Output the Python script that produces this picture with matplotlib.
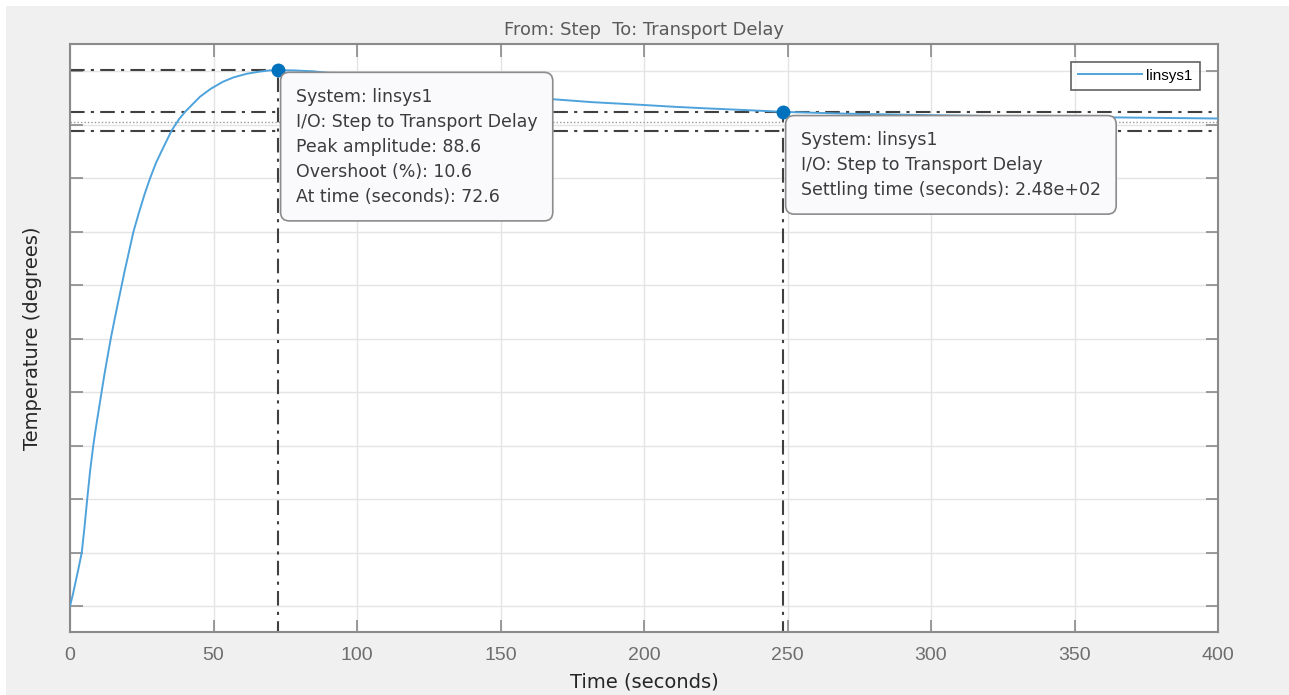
import numpy as np
import matplotlib.pyplot as plt
from matplotlib.patches import Rectangle

# step response (time in s, temperature)
time = [0, 1, 2, 3, 4.1, 5, 6, 7, 8.1, 9, 10, 11, 12, 13, 14.2, 15.5, 16.8, 18,
        19, 20, 22.1, 24, 26, 27.9, 30, 32, 35.4, 38, 40.1, 43, 45.3, 49, 53.4,
        57, 61.6, 66, 69.5, 72.6, 78, 84.7, 95, 110, 130, 150, 167.8, 182,
        197.5, 210, 220.6, 235, 248.4, 270, 300, 330, 360, 380, 400]
temp = [0, 1.9, 4.1, 6.3, 8.84, 12.8, 17.68, 22.3, 26.52, 29.4, 32.4, 35.36,
        38.3, 41.0, 44.2, 47.3, 50.3, 53.0, 55.3, 57.4, 61.88, 65.0, 68.1, 70.72,
        73.3, 75.3, 78.6, 80.5, 81.7, 83.1, 84.2, 85.5, 86.7, 87.4, 88.0, 88.35,
        88.55, 88.6, 88.55, 88.4, 87.9, 87.0, 85.8, 84.7, 83.8, 83.3, 82.9,
        82.55, 82.3, 82.0, 81.7, 81.4, 81.15, 80.95, 80.8, 80.7, 80.6]

peak_time = 72.6
peak_amp = 88.6
overshoot = 10.6
settle_time = 248.4
settle_amp = 81.7
final_value = 80.1
band_hi = 81.7
band_lo = 78.5

x_ticks = [0, 50, 100, 150, 200, 250, 300, 350, 400]
y_ticks = [0, 8.84, 17.68, 26.52, 35.36, 44.2, 53.04, 61.88, 70.72, 79.56, 88.4]

fig = plt.figure(figsize=(12.89, 6.95), dpi=100)
fig.patch.set_facecolor('white')
fig.patches.append(Rectangle((6 / 1289, 0), 1, 1 - 6 / 695, transform=fig.transFigure,
                             facecolor='#f0f0f0', edgecolor='none', zorder=-10))
ax = fig.add_axes([70 / 1289, 1 - 632 / 695, 1148 / 1289, (632 - 43.5) / 695])
ax.set_facecolor('white')

ax.plot(time, temp, color='#4fa3dc', lw=1.4, label='linsys1', zorder=3)

# characteristic lines
dash = dict(color='#404040', lw=1.5, linestyle=(0, (7, 3, 1.5, 3)), zorder=2)
ax.plot([0, peak_time], [peak_amp, peak_amp], **dash)
ax.plot([peak_time, peak_time], [-10, peak_amp], **dash)
ax.plot([0, 400], [band_hi, band_hi], **dash)
ax.plot([0, 400], [band_lo, band_lo], **dash)
ax.plot([settle_time, settle_time], [-10, settle_amp], **dash)
ax.plot([0, 400], [final_value, final_value], color='#9a9a9a', lw=1.0,
        linestyle=(0, (1, 1.5)), zorder=2)

ax.plot([peak_time, settle_time], [peak_amp, settle_amp], 'o', color='#0072bd',
        ms=9, zorder=6)

ax.set_xlim(0, 400)
ax.set_ylim(-4.3, 93.0)
ax.set_xticks(x_ticks)
ax.set_yticks(y_ticks)
ax.set_yticklabels([])
ax.grid(True, color='#e4e4e4', lw=1.0)
ax.set_axisbelow(True)
ax.tick_params(direction='in', length=9, width=1.2, color='#8a8a8a',
               top=True, right=True, labelsize=14, labelcolor='#6e6e6e', pad=11)
for lab in ax.get_xticklabels():
    lab.set_family(['Liberation Sans', 'DejaVu Sans'])
for s in ax.spines.values():
    s.set_color('#8a8a8a')
    s.set_linewidth(1.5)

ax.set_title('From: Step  To: Transport Delay', fontsize=12.9, color='#5a5a5a', pad=6)
ax.set_xlabel('Time (seconds)', fontsize=14, color='#262626')
ax.set_ylabel('Temperature (degrees)', fontsize=14, color='#262626')
ax.xaxis.set_label_coords(0.5, -0.068)
ax.yaxis.set_label_coords(-0.0245, 0.5)

box = dict(boxstyle='round,pad=0.88,rounding_size=0.5', facecolor='#fafafd',
           edgecolor='#8c8c8c', lw=1.2)
txt1 = ('System: linsys1\nI/O: Step to Transport Delay\nPeak amplitude: %.1f\n'
        'Overshoot (%%): %.1f\nAt time (seconds): %.1f' % (peak_amp, overshoot, peak_time))
ax.annotate(txt1, xy=(peak_time, peak_amp), xytext=(17.5, -17.5), textcoords='offset pixels',
            fontsize=12.5, color='#3c3c3c', va='top', ha='left', linespacing=1.5,
            bbox=box, zorder=7)
txt2 = ('System: linsys1\nI/O: Step to Transport Delay\n'
        'Settling time (seconds): %.2e' % settle_time)
ax.annotate(txt2, xy=(settle_time, settle_amp), xytext=(18, -19), textcoords='offset pixels',
            fontsize=12.5, color='#3c3c3c', va='top', ha='left', linespacing=1.5,
            bbox=box, zorder=7)

leg = ax.legend(loc='upper right', fontsize=11, frameon=True, fancybox=False,
                borderaxespad=1.2, handlelength=4.2, handletextpad=0.3,
                borderpad=0.45)
leg.get_frame().set_edgecolor('#3a3a3a')
leg.get_frame().set_linewidth(1.2)
for t in leg.get_texts():
    t.set_family(['Liberation Sans', 'DejaVu Sans'])

fig.savefig('out.png', dpi=100, facecolor=fig.get_facecolor())
